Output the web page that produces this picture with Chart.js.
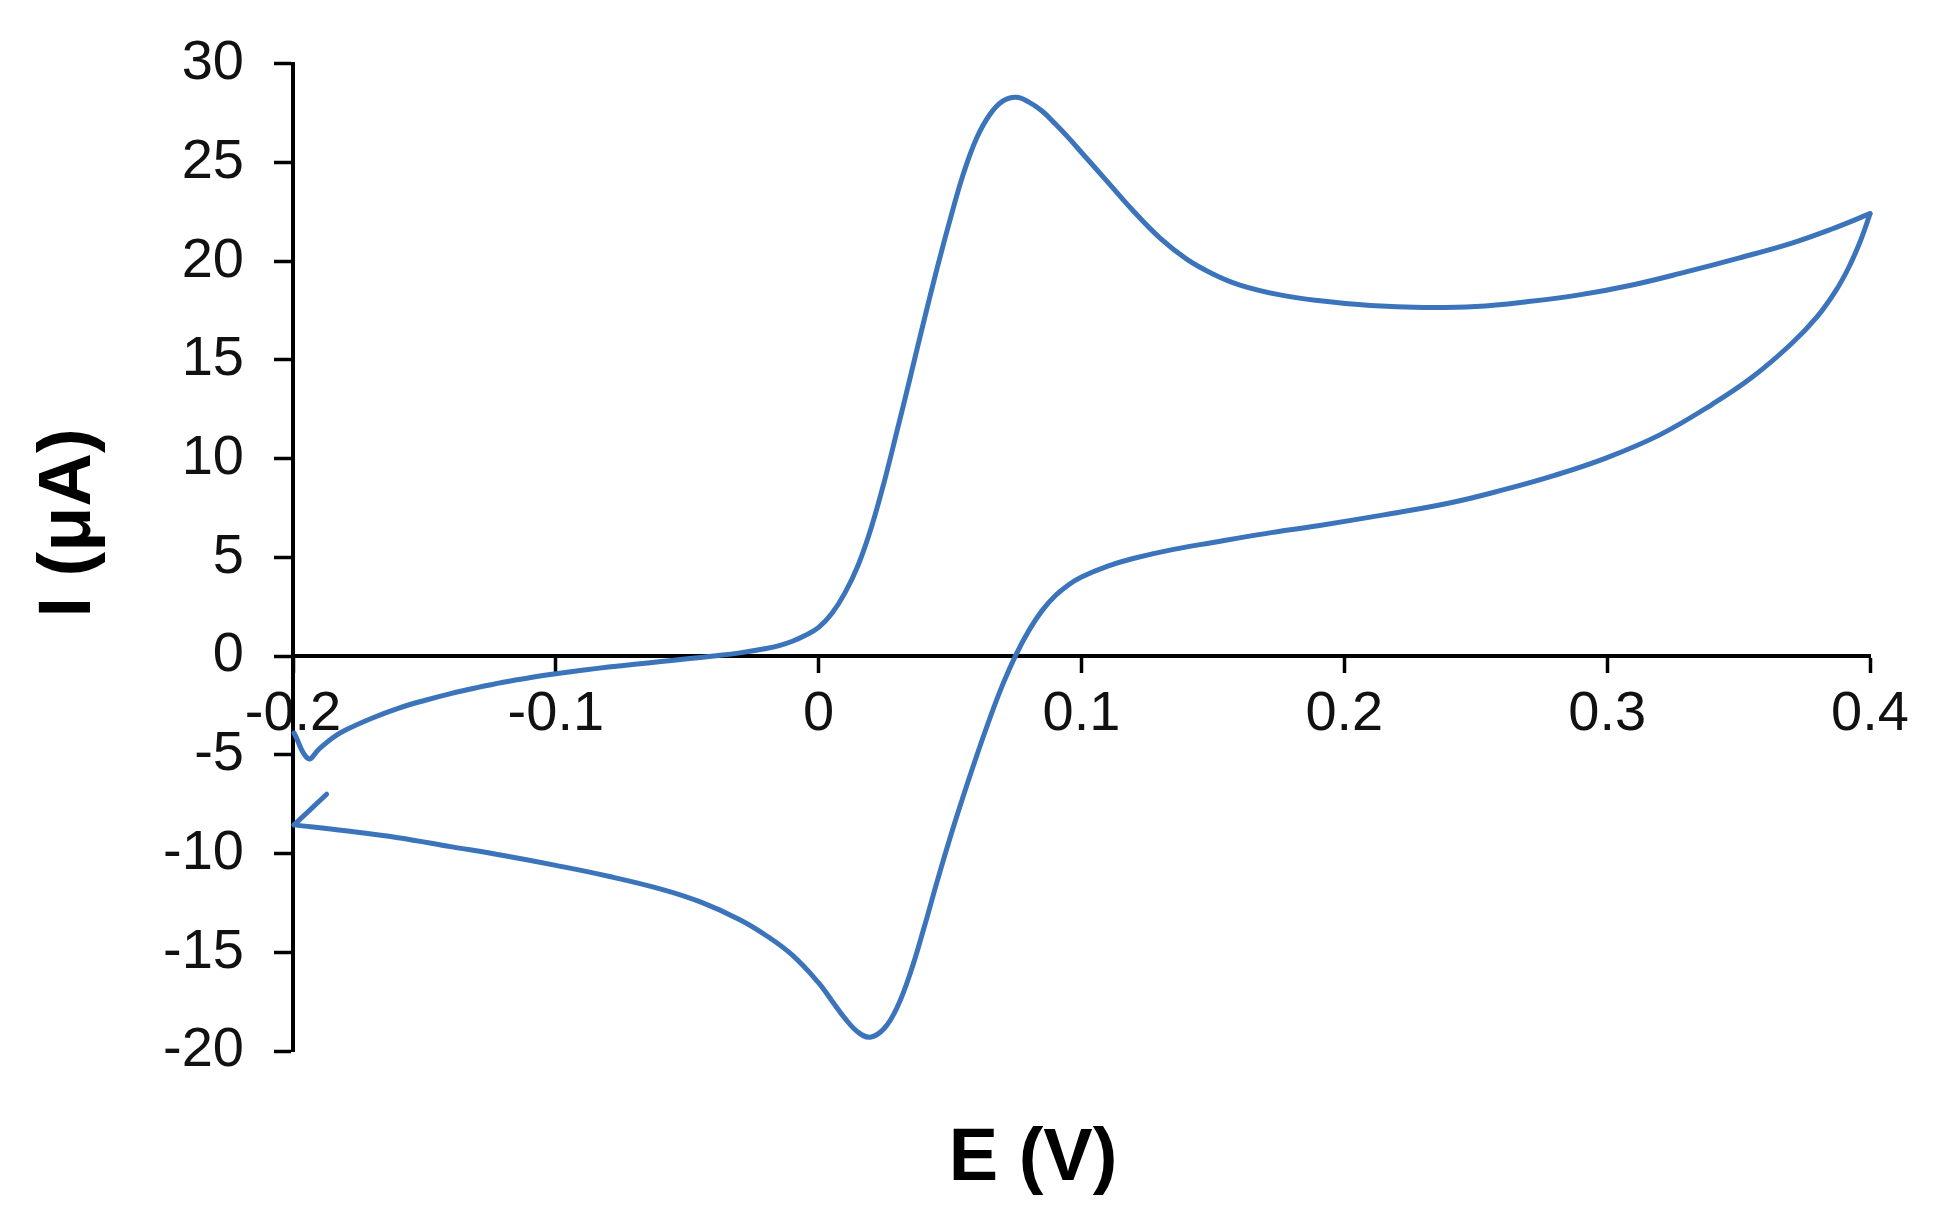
<!DOCTYPE html>
<html>
<head>
<meta charset="utf-8">
<script src="https://cdn.jsdelivr.net/npm/chart.js@4/dist/chart.umd.min.js"></script>
<style>
  html, body { margin: 0; padding: 0; background: #ffffff; }
  #wrap { width: 1942px; height: 1227px; position: relative; }
</style>
</head>
<body>
<div id="wrap"><canvas id="cv" width="1942" height="1227"></canvas></div>
<script>
// ---- Data ----
const xAxisTitle = 'E (V)';
const yAxisTitle = 'I (\u03bcA)';
const xTickValues = [-0.2, -0.1, 0, 0.1, 0.2, 0.3, 0.4];
const yTickValues = [-20, -15, -10, -5, 0, 5, 10, 15, 20, 25, 30];

// forward (anodic) scan, E in V
const forwardE = [-0.1996, -0.1942, -0.1900, -0.1850, -0.1800, -0.1700, -0.1600, -0.1500, -0.1400, -0.1300,
  -0.1200, -0.1100, -0.1000, -0.0900, -0.0800, -0.0700, -0.0600, -0.0500, -0.0400, -0.0300,
  -0.0200, -0.0150, -0.0100, -0.0050, 0.0000, 0.0050, 0.0100, 0.0150, 0.0200, 0.0250,
  0.0300, 0.0350, 0.0400, 0.0450, 0.0500, 0.0550, 0.0600, 0.0650, 0.0700, 0.0752,
  0.0800, 0.0850, 0.0900, 0.0950, 0.1000, 0.1100, 0.1200, 0.1300, 0.1400, 0.1500,
  0.1600, 0.1750, 0.1900, 0.2100, 0.2300, 0.2500, 0.2700, 0.2900, 0.3100, 0.3300,
  0.3500, 0.3700, 0.3850, 0.4000];
// forward scan, I in µA
const forwardI = [-3.9, -5.2, -4.7, -4.15, -3.75, -3.15, -2.65, -2.25, -1.9, -1.6,
  -1.33, -1.1, -0.9, -0.72, -0.56, -0.42, -0.28, -0.14, 0.0, 0.16,
  0.38, 0.53, 0.75, 1.05, 1.45, 2.15, 3.2, 4.6, 6.5, 8.85,
  11.5, 14.2, 16.95, 19.6, 22.1, 24.4, 26.2, 27.4, 28.1, 28.3,
  28.05, 27.6, 26.95, 26.25, 25.5, 24.0, 22.5, 21.15, 20.1, 19.35,
  18.8, 18.3, 18.0, 17.75, 17.65, 17.7, 17.95, 18.3, 18.8, 19.45,
  20.15, 20.9, 21.6, 22.4];

// reverse (cathodic) scan, E in V
const reverseE = [0.4000, 0.3985, 0.3960, 0.3920, 0.3870, 0.3800, 0.3700, 0.3550, 0.3400, 0.3200,
  0.3000, 0.2800, 0.2600, 0.2400, 0.2150, 0.1900, 0.1700, 0.1500, 0.1350, 0.1200,
  0.1100, 0.1000, 0.0950, 0.0900, 0.0850, 0.0800, 0.0750, 0.0700, 0.0650, 0.0600,
  0.0550, 0.0500, 0.0450, 0.0400, 0.0350, 0.0300, 0.0250, 0.0196, 0.0150, 0.0100,
  0.0050, 0.0000, -0.0100, -0.0200, -0.0300, -0.0450, -0.0600, -0.0800, -0.1000, -0.1200,
  -0.1400, -0.1600, -0.1800, -0.1996];
// reverse scan, I in µA
const reverseI = [22.4, 21.8, 20.9, 19.7, 18.5, 17.2, 15.8, 14.1, 12.75, 11.2,
  10.05, 9.15, 8.4, 7.75, 7.15, 6.6, 6.2, 5.75, 5.4, 4.95,
  4.55, 4.0, 3.6, 3.05, 2.3, 1.3, 0.05, -1.45, -3.2, -5.1,
  -7.1, -9.2, -11.45, -13.8, -16.0, -17.75, -18.85, -19.3, -19.05, -18.35,
  -17.45, -16.55, -15.15, -14.15, -13.35, -12.45, -11.8, -11.15, -10.6, -10.1,
  -9.65, -9.2, -8.85, -8.55];

// start of the next cycle
const nextCycleE = [-0.1996, -0.1872];
const nextCycleI = [-8.55, -7.0];

// ---- Build chart ----
const toPts = (xs, ys) => xs.map((x, i) => ({ x: x, y: ys[i] }));
const lineColor = '#3C74BC';
const FONT = '"Liberation Sans", Arial, sans-serif';

const axisTitlePlugin = {
  id: 'axisTitles',
  afterDraw(chart) {
    const ctx = chart.ctx;
    ctx.save();
    ctx.fillStyle = '#000000';
    ctx.font = 'bold 74px ' + FONT;
    ctx.textAlign = 'center';
    ctx.textBaseline = 'middle';
    ctx.fillText(xAxisTitle, 1033, 1160);
    ctx.translate(70, 523);
    ctx.rotate(-Math.PI / 2);
    ctx.fillText(yAxisTitle, 0, 0);
    ctx.restore();
  }
};

const common = {
  showLine: true,
  borderColor: lineColor,
  borderWidth: 5,
  pointRadius: 0,
  pointHoverRadius: 0,
  fill: false,
  clip: false,
  borderJoinStyle: 'round',
  borderCapStyle: 'round'
};

new Chart(document.getElementById('cv'), {
  type: 'scatter',
  data: {
    datasets: [
      Object.assign({ label: 'forward', data: toPts(forwardE, forwardI), tension: 0.4 }, common),
      Object.assign({ label: 'reverse', data: toPts(reverseE, reverseI), tension: 0.4 }, common),
      Object.assign({ label: 'next', data: toPts(nextCycleE, nextCycleI), tension: 0 }, common)
    ]
  },
  options: {
    responsive: false,
    animation: false,
    devicePixelRatio: 1,
    layout: { padding: { left: 0, top: 61, right: 72, bottom: 176 } },
    plugins: {
      legend: { display: false },
      tooltip: { enabled: false }
    },
    scales: {
      x: {
        type: 'linear',
        position: { y: 0 },
        min: -0.2,
        max: 0.4,
        afterBuildTicks: (scale) => { scale.ticks = xTickValues.map(v => ({ value: v })); },
        ticks: {
          color: '#111111',
          font: { family: FONT, size: 56 },
          padding: 10,
          maxRotation: 0,
          autoSkip: false,
          callback: (v) => String(Math.round(v * 10) / 10)
        },
        grid: {
          display: true,
          drawOnChartArea: false,
          drawTicks: true,
          tickLength: 15,
          tickWidth: 3.5,
          tickColor: '#000000'
        },
        border: { display: true, color: '#000000', width: 4 }
      },
      y: {
        type: 'linear',
        position: 'left',
        min: -20,
        max: 30,
        afterBuildTicks: (scale) => { scale.ticks = yTickValues.map(v => ({ value: v })); },
        afterFit: (scale) => { scale.width = 293; },
        ticks: {
          color: '#111111',
          font: { family: FONT, size: 56 },
          padding: 30,
          autoSkip: false,
          callback: (v) => String(v)
        },
        grid: {
          display: true,
          drawOnChartArea: false,
          drawTicks: true,
          tickLength: 19,
          tickWidth: 3.5,
          tickColor: '#000000'
        },
        border: { display: true, color: '#000000', width: 4 }
      }
    }
  },
  plugins: [axisTitlePlugin]
});
</script>
</body>
</html>
